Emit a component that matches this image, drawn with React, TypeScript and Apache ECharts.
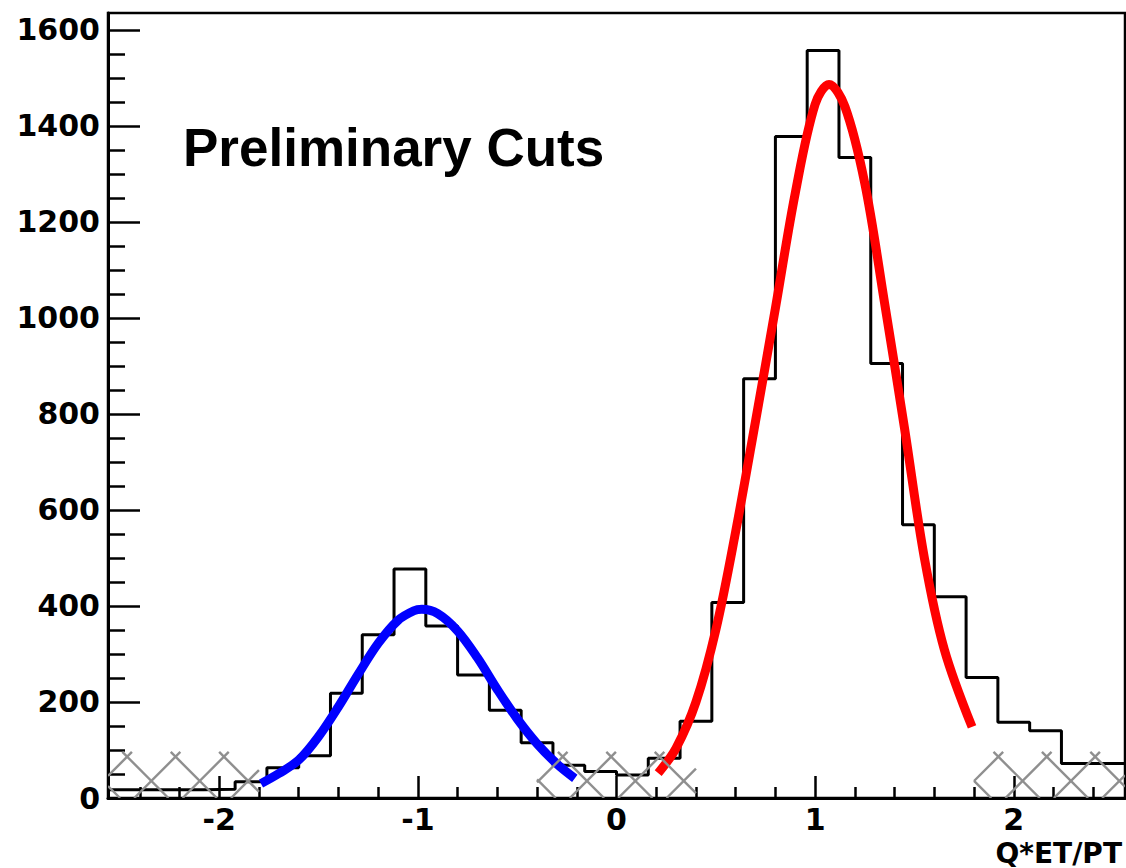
import React, { useEffect, useRef } from "react";
import * as echarts from "echarts";

// Histogram: 32 bins of width 0.16 starting at -2.56
const binLow = -2.56;
const binWidth = 0.16;
const counts = [
  17, 17, 17, 18, 34, 63, 88, 218, 340, 477, 358, 256, 183, 115, 68, 55,
  48, 83, 160, 407, 873, 1378, 1557, 1334, 905, 569, 419, 251, 158, 140, 72, 72,
];

// Blue fit curve
const blueFitX = [-1.79, -1.7, -1.6, -1.5, -1.4, -1.3, -1.2, -1.1, -1.02, -0.98, -0.9, -0.8, -0.7, -0.6, -0.5, -0.4, -0.3, -0.21];
const blueFitY = [30, 51, 79, 128, 190, 258, 322, 370, 390, 393, 384, 348, 292, 226, 165, 113, 71, 41];

// Red fit curve
const redFitX = [0.21, 0.3, 0.4, 0.5, 0.6, 0.7, 0.8, 0.9, 1.0, 1.07, 1.15, 1.25, 1.35, 1.45, 1.55, 1.65, 1.79];
const redFitY = [52, 104, 200, 350, 555, 785, 1020, 1260, 1445, 1486, 1440, 1280, 1030, 770, 500, 310, 148];

// Cross-hatched side-band regions
const hatchRanges = [
  [-2.56, -1.8],
  [-0.4, 0.4],
  [1.8, 2.56],
];
const hatchTop = 96;

// Axis ticks
const xMajorTicks = [-2, -1, 0, 1, 2];
const xMinorTicks = [-2.4, -2.2, -1.8, -1.6, -1.4, -1.2, -0.8, -0.6, -0.4, -0.2, 0.2, 0.4, 0.6, 0.8, 1.2, 1.4, 1.6, 1.8, 2.2, 2.4];
const yMajorTicks = [0, 200, 400, 600, 800, 1000, 1200, 1400, 1600];
const yMinorTicks = [
  50, 100, 150, 250, 300, 350, 450, 500, 550, 650, 700, 750, 850, 900, 950,
  1050, 1100, 1150, 1250, 1300, 1350, 1450, 1500, 1550,
];

const xMin = -2.56;
const xMax = 2.56;
const yMin = 0;
const yMax = 1635;

const titleText = "Preliminary Cuts";
const xTitle = "Q*ET/PT";

// hatch style constants
const hatchAnchor = [-2.22, 86];
const hatchSpacing = 48.4;

const labelFont = "DejaVu Sans";

export default function App() {
  const ref = useRef<HTMLDivElement>(null);

  useEffect(() => {
    if (!ref.current) return;
    const chart = echarts.init(ref.current, null, { renderer: "svg" });

    const histData: number[][] = counts.map((c, k) => [binLow + k * binWidth, c]);
    histData.push([binLow + counts.length * binWidth, counts[counts.length - 1]]);

    const blueData = blueFitX.map((x, i) => [x, blueFitY[i]]);
    const redData = redFitX.map((x, i) => [x, redFitY[i]]);

    const hatchStyle = { stroke: "#8f8f8f", lineWidth: 2.4 };

    const option: any = {
      animation: false,
      backgroundColor: "#ffffff",
      grid: {
        left: 108,
        right: 1,
        top: 13,
        bottom: 70,
        show: true,
        borderColor: "#000",
        borderWidth: 2.5,
        containLabel: false,
      },
      xAxis: [
        {
          type: "value",
          min: xMin,
          max: xMax,
          position: "bottom",
          axisLine: { show: true, onZero: false, lineStyle: { color: "#000", width: 3 } },
          axisTick: {
            show: true,
            inside: true,
            length: 22,
            customValues: xMajorTicks,
            lineStyle: { color: "#000", width: 2.5 },
          },
          axisLabel: {
            show: true,
            customValues: xMajorTicks,
            margin: 6,
            fontSize: 30,
            lineHeight: 30,
            fontWeight: "bold",
            fontFamily: labelFont,
            color: "#000",
            formatter: (v: number) => String(v),
          },
          splitLine: { show: false },
        },
        {
          type: "value",
          min: xMin,
          max: xMax,
          position: "bottom",
          axisLine: { show: false, onZero: false },
          axisTick: {
            show: true,
            inside: true,
            length: 11,
            customValues: xMinorTicks,
            lineStyle: { color: "#000", width: 2.5 },
          },
          axisLabel: { show: false },
          splitLine: { show: false },
        },
      ],
      yAxis: [
        {
          type: "value",
          min: yMin,
          max: yMax,
          position: "left",
          axisLine: { show: true, onZero: false, lineStyle: { color: "#000", width: 3 } },
          axisTick: {
            show: true,
            inside: true,
            length: 32,
            customValues: yMajorTicks,
            lineStyle: { color: "#000", width: 2.5 },
          },
          axisLabel: {
            show: true,
            customValues: yMajorTicks,
            margin: 8,
            fontSize: 30,
            fontWeight: "bold",
            fontFamily: labelFont,
            color: "#000",
            formatter: (v: number) => String(v),
          },
          splitLine: { show: false },
        },
        {
          type: "value",
          min: yMin,
          max: yMax,
          position: "left",
          axisLine: { show: false, onZero: false },
          axisTick: {
            show: true,
            inside: true,
            length: 17,
            customValues: yMinorTicks,
            lineStyle: { color: "#000", width: 2.5 },
          },
          axisLabel: { show: false },
          splitLine: { show: false },
        },
      ],
      series: [
        {
          name: "histogram",
          type: "line",
          xAxisIndex: 0,
          yAxisIndex: 0,
          step: "end",
          data: histData,
          symbol: "none",
          lineStyle: { color: "#000", width: 3 },
          z: 2,
          silent: true,
        },
        {
          name: "fit1",
          type: "line",
          xAxisIndex: 0,
          yAxisIndex: 0,
          data: blueData,
          smooth: 0.35,
          symbol: "none",
          lineStyle: { color: "#0000ff", width: 9, cap: "butt" },
          z: 3,
          silent: true,
        },
        {
          name: "fit2",
          type: "line",
          xAxisIndex: 0,
          yAxisIndex: 0,
          data: redData,
          smooth: 0.35,
          symbol: "none",
          lineStyle: { color: "#ff0000", width: 9, cap: "butt" },
          z: 3,
          silent: true,
        },
        {
          name: "hatch",
          type: "custom",
          xAxisIndex: 0,
          yAxisIndex: 0,
          data: hatchRanges.map((r) => [r[0], r[1], hatchTop]),
          encode: { x: [0, 1], y: 2 },
          clip: true,
          silent: true,
          z: 4,
          renderItem: (params: any, api: any) => {
            const pa = api.coord([api.value(0), 0]);
            const pb = api.coord([api.value(1), api.value(2)]);
            const cs = params.coordSys;
            const x0 = Math.max(Math.min(pa[0], pb[0]), cs.x);
            const x1 = Math.min(Math.max(pa[0], pb[0]), cs.x + cs.width);
            const y0 = Math.max(Math.min(pa[1], pb[1]), cs.y);
            const y1 = Math.min(Math.max(pa[1], pb[1]), cs.y + cs.height);
            const anchor = api.coord(hatchAnchor);
            const s = hatchSpacing;
            const cA = anchor[0] - anchor[1];
            const dA = anchor[0] + anchor[1];
            const children: any[] = [];
            const cMin = x0 - y1;
            const cMax = x1 - y0;
            for (let k = Math.ceil((cMin - cA) / s); cA + k * s <= cMax; k++) {
              const c = cA + k * s;
              const xs = Math.max(x0, y0 + c);
              const xe = Math.min(x1, y1 + c);
              if (xe > xs)
                children.push({
                  type: "line",
                  shape: { x1: xs, y1: xs - c, x2: xe, y2: xe - c },
                  style: hatchStyle,
                });
            }
            const dMin = x0 + y0;
            const dMax = x1 + y1;
            for (let k = Math.ceil((dMin - dA) / s); dA + k * s <= dMax; k++) {
              const d = dA + k * s;
              const xs = Math.max(x0, d - y1);
              const xe = Math.min(x1, d - y0);
              if (xe > xs)
                children.push({
                  type: "line",
                  shape: { x1: xs, y1: d - xs, x2: xe, y2: d - xe },
                  style: hatchStyle,
                });
            }
            return { type: "group", children };
          },
        },
      ],
      graphic: [
        {
          type: "text",
          x: 183,
          y: 147,
          style: {
            text: titleText,
            fontSize: 53,
            fontWeight: "bold",
            fontFamily: "Liberation Sans",
            fill: "#000",
            align: "left",
            verticalAlign: "middle",
          },
          z: 10,
        },
        {
          type: "text",
          x: 1122,
          y: 853,
          style: {
            text: xTitle,
            fontSize: 28,
            lineHeight: 28,
            fontWeight: "bold",
            fontFamily: labelFont,
            fill: "#000",
            align: "right",
            verticalAlign: "middle",
          },
          z: 10,
        },
      ],
    };

    chart.setOption(option);
    return () => {
      chart.dispose();
    };
  }, []);

  return (
    <div
      ref={ref}
      style={{ position: "absolute", left: 0, top: 0, width: 1126, height: 868, background: "#fff" }}
    />
  );
}
